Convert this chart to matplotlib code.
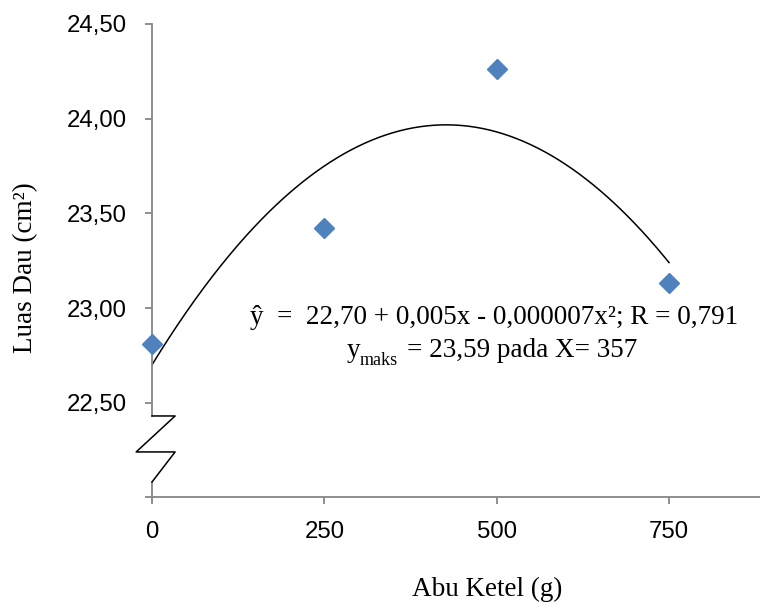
import numpy as np
import matplotlib
matplotlib.use("Agg")
import matplotlib.pyplot as plt

# data
abu_ketel = [0, 250, 500, 750]
luas_dau = [22.81, 23.42, 24.26, 23.13]
x_ticks = [0, 250, 500, 750]
y_ticks = [22.5, 23.0, 23.5, 24.0, 24.5]
y_ticklabels = ["22,50", "23,00", "23,50", "24,00", "24,50"]

fig = plt.figure(figsize=(7.6, 6.1), dpi=100)
ax = fig.add_axes([0.2, 0.1846, 0.8, 0.7761])

# quadratic trendline (least squares, like the spreadsheet trendline)
coef = np.polyfit(abu_ketel, luas_dau, 2)
xs = np.linspace(0, 750, 300)
ax.plot(xs, np.polyval(coef, xs), color="black", lw=1.1, zorder=2)

ax.plot(abu_ketel, luas_dau, linestyle="none", marker="D", ms=10.5,
        color="#4F81BD", zorder=3, clip_on=False)

ax.set_xlim(0, 882)
ax.set_ylim(22.0, 24.5)
ax.set_xticks(x_ticks)
ax.set_xticklabels([str(v) for v in x_ticks])
ax.set_yticks([22.0] + y_ticks)
ax.set_yticklabels([""] + y_ticklabels)

grey = "#868686"
for s in ["top", "right"]:
    ax.spines[s].set_visible(False)
ax.spines["bottom"].set_color(grey)
ax.spines["bottom"].set_linewidth(1.3)
ax.spines["left"].set_visible(False)

# y axis with a break near the bottom
ax.plot([0, 0], [0.172, 1.0], transform=ax.transAxes, color=grey, lw=1.3, clip_on=False)
ax.plot([0, 0], [0.0, 0.0325], transform=ax.transAxes, color=grey, lw=1.3, clip_on=False)
ax.plot([0, 0.038, -0.026, 0.038, 0], [0.172, 0.172, 0.096, 0.096, 0.0325],
        transform=ax.transAxes, color="black", lw=1.1, clip_on=False)

ax.tick_params(axis="both", color=grey, width=1.3, length=5, direction="out")
ax.tick_params(axis="y", pad=13)
ax.tick_params(axis="x", pad=12)
for lab in ax.get_xticklabels() + ax.get_yticklabels():
    lab.set_fontfamily("Liberation Sans")
    lab.set_fontsize(17.3)

serif = "Liberation Serif"
fig.text(0.034, 0.561, "Luas Dau (cm²)", rotation=90, ha="center", va="center",
         fontfamily=serif, fontsize=19.5)
fig.text(0.641, 0.033, "Abu Ketel (g)", ha="center", va="center",
         fontfamily=serif, fontsize=19.5)

fig.text(0.65, 0.480, "ŷ  =  22,70 + 0,005x - 0,000007x²; R = 0,791",
         ha="center", va="center", fontfamily=serif, fontsize=19.5)
fig.text(0.4566, 0.4148, "y", ha="left", va="baseline", fontfamily=serif, fontsize=19.5)
fig.text(0.4737, 0.4016, "maks", ha="left", va="baseline", fontfamily=serif, fontsize=13)
fig.text(0.5355, 0.4148, "= 23,59 pada X= 357", ha="left", va="baseline",
         fontfamily=serif, fontsize=19.5)

fig.savefig("out.png", dpi=100)
